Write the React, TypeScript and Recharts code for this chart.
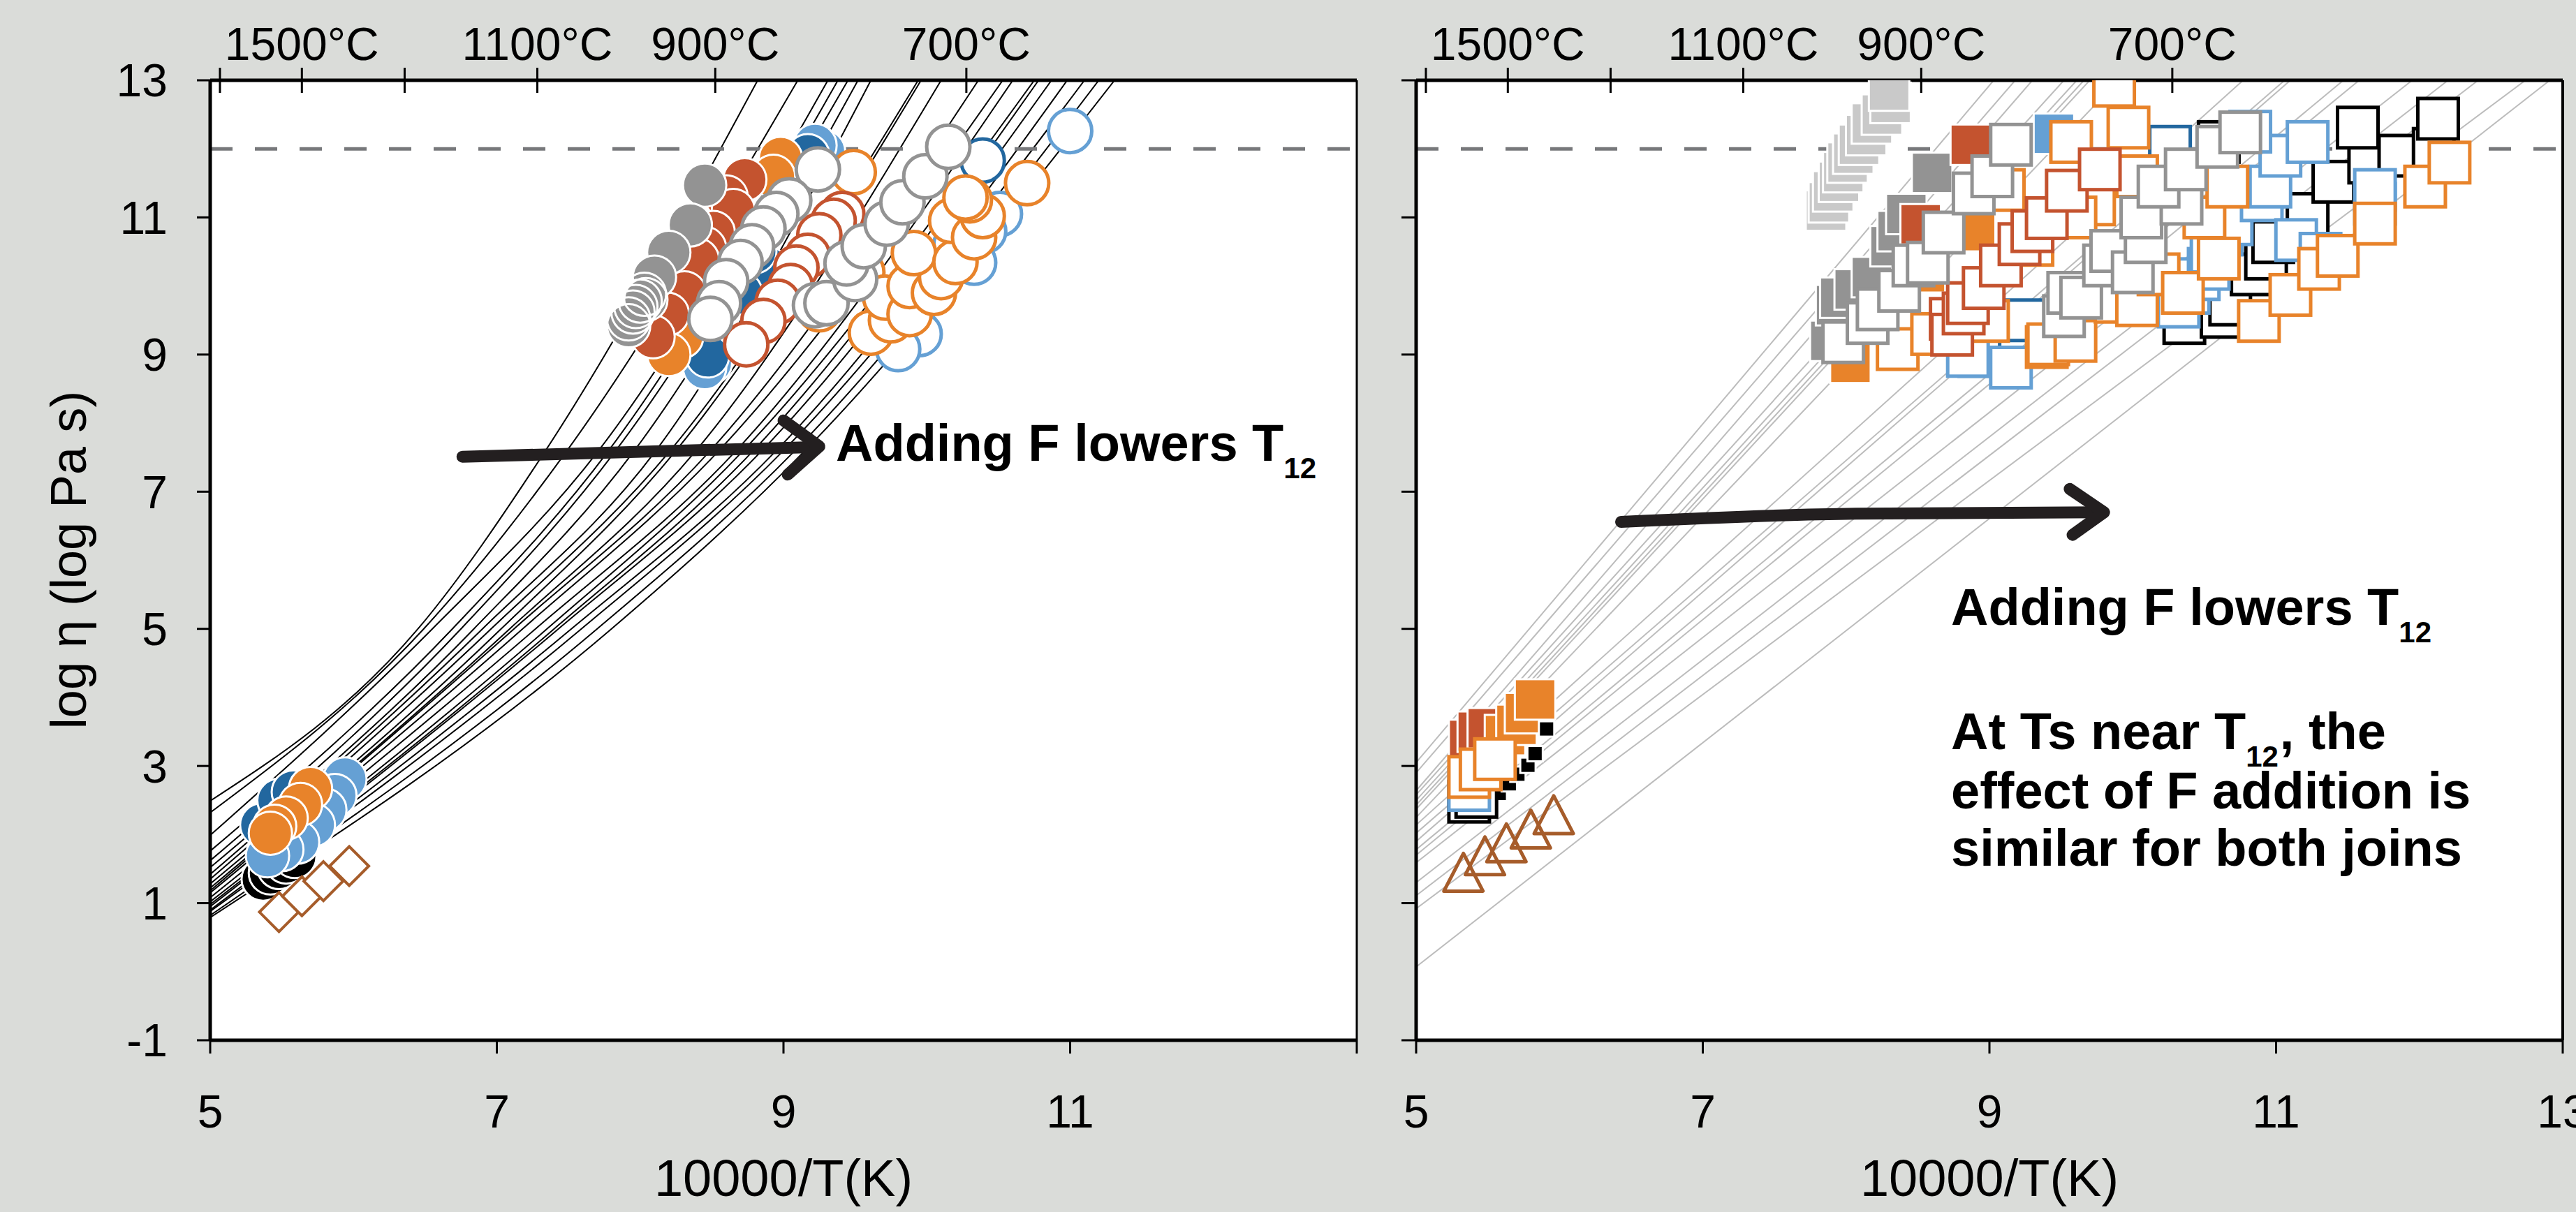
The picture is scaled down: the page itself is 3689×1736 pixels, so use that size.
import {
  CartesianGrid,
  ComposedChart,
  Line,
  ReferenceLine,
  Scatter,
  XAxis,
  YAxis,
} from "recharts";

const FONT = "'Liberation Sans', Arial, Helvetica, sans-serif";

// colours
const GRAY = "#939393";
const LIGHT_GRAY = "#c9c9c9";
const RED = "#c4532f";
const ORANGE = "#e8832a";
const DARK_BLUE = "#22679f";
const LIGHT_BLUE = "#65a0d4";
const BROWN = "#a65c2a";
const ARROW = "#231f20";
const FIT_GRAY = "#bcbcbc";

// axes
const X_TICKS = [5, 7, 9, 11, 13];
const Y_TICKS = [-1, 1, 3, 5, 7, 9, 11, 13];
const TOP_TEMPS_C = [1700, 1500, 1300, 1100, 900, 700];
const TOP_LABELED_C = [1500, 1100, 900, 700];
const T12_LINE = [[5, 12], [13, 12]];

// left panel: VFT fit curves (y at x=5, x where y=5, x where y=7.6, x where y=13)
const CURVE_Y_AT_5 = [2.49, 2.32, 1.99, 1.76, 1.62, 1.52, 1.42, 1.35, 1.28, 1.22, 1.18, 1.15, 1.08, 1.02, 0.98, 0.95, 0.9, 0.88, 0.82, 0.79];
const CURVE_X_Y5 = [6.45, 6.49, 6.55, 6.69, 6.75, 6.84, 6.9, 6.96, 7.03, 7.09, 7.12, 7.18, 7.27, 7.35, 7.4, 7.43, 7.52, 7.59, 7.7, 7.8];
const CURVE_X_Y76 = [7.34, 7.49, 7.71, 7.78, 7.83, 7.96, 8.11, 8.21, 8.25, 8.39, 8.49, 8.55, 8.67, 8.72, 8.79, 8.85, 8.95, 9.0, 9.08, 9.15];
const CURVE_X_TOP = [8.82, 9.1, 9.31, 9.38, 9.45, 9.52, 9.61, 9.94, 9.96, 10.1, 10.36, 10.53, 10.6, 10.75, 10.78, 10.87, 10.98, 11.1, 11.2, 11.31];

// left panel: circles
const LB_FILLED_C = [[9.28, 11.96], [9.22, 12.05], [8.49, 8.88], [8.45, 8.81], [5.94, 2.81], [5.87, 2.57], [5.8, 2.36], [5.72, 2.14], [5.61, 1.89], [5.5, 1.78], [5.4, 1.69]];
const DB_FILLED_C = [[9.17, 11.9], [8.88, 10.27], [8.8, 10.5], [8.7, 9.9], [8.47, 8.98], [5.36, 2.14], [5.48, 2.5], [5.58, 2.62]];
const OR_FILLED_C = [[8.98, 11.86], [8.93, 11.6], [8.35, 9.5], [8.29, 9.26], [8.2, 9.0], [5.7, 2.67], [5.63, 2.44], [5.53, 2.24], [5.45, 2.12], [5.42, 2.02]];
const RD_FILLED_C = [[8.73, 11.55], [8.6, 11.3], [8.65, 11.1], [8.51, 10.78], [8.45, 10.55], [8.4, 10.38], [8.31, 9.9], [8.19, 9.59], [8.09, 9.26]];
const GY_FILLED_C = [[8.45, 11.47], [8.35, 10.89], [8.2, 10.49], [8.1, 10.13], [8.04, 9.8], [7.92, 9.42]];
const WH_OPEN_C = [[7.92, 9.52], [7.95, 9.62], [7.97, 9.7], [8.0, 9.78], [8.03, 9.88]];
const BK_FILLED_C = [[5.37, 1.35], [5.42, 1.44], [5.48, 1.52], [5.53, 1.6], [5.59, 1.68]];
const BR_DIAMONDS = [[5.48, 0.87], [5.64, 1.1], [5.79, 1.32], [5.97, 1.54]];
const LB_OPEN_C = [[11.0, 12.26], [10.51, 11.05], [10.4, 10.8], [10.2, 10.6], [10.33, 10.34], [9.95, 9.3], [9.8, 9.08]];
const DB_OPEN_C = [[10.39, 11.83]];
const OR_OPEN_C = [[9.49, 11.66], [9.4, 10.6], [9.55, 10.2], [9.25, 9.66], [9.61, 9.32], [9.75, 9.5], [9.71, 9.83], [9.88, 9.59], [9.88, 10.0], [10.05, 9.9], [10.1, 10.13], [9.91, 10.48], [10.2, 10.35], [10.17, 10.95], [10.33, 10.71], [10.39, 11.02], [10.3, 11.25], [10.27, 11.29], [10.7, 11.5]];
const RD_OPEN_C = [[9.41, 11.05], [9.35, 10.95], [9.25, 10.74], [9.17, 10.44], [9.09, 10.27], [9.05, 10.0], [8.96, 9.77], [8.86, 9.49], [8.74, 9.15]];
const GY_OPEN_C = [[9.24, 11.7], [9.04, 11.25], [8.95, 11.05], [8.86, 10.84], [8.78, 10.58], [8.7, 10.35], [8.6, 10.07], [8.55, 9.75], [8.49, 9.52], [9.22, 9.72], [9.3, 9.75], [9.5, 10.1], [9.44, 10.33], [9.56, 10.58], [9.72, 10.91], [9.83, 11.22], [9.99, 11.6], [10.15, 12.03]];

// right panel: straight fits (y at x=5, x where y=13)
const R_LINE_Y_AT_5 = [3.05, 2.9, 2.64, 2.58, 2.5, 2.43, 2.37, 2.25, 2.14, 2.02, 1.9, 1.78, 1.7, 1.59, 1.3, 1.11, 0.92, 0.07];
const R_LINE_X_TOP = [9.03, 9.18, 9.3, 9.52, 9.61, 9.66, 9.7, 9.9, 10.77, 11.06, 11.1, 11.47, 11.58, 11.95, 12.2, 12.41, 12.74, 12.91];

// right panel: squares
const LG_FILLED_S = [[7.86, 11.1], [7.88, 11.22], [7.91, 11.38], [7.95, 11.52], [7.98, 11.66], [8.01, 11.8], [8.05, 11.93], [8.09, 12.06], [8.14, 12.2], [8.18, 12.37], [8.25, 12.5], [8.31, 12.67], [8.3, 12.85]];
const GY_FILLED_S = [[7.89, 9.2], [7.93, 9.72], [7.96, 9.83], [8.06, 9.95], [8.18, 10.13], [8.31, 10.58], [8.36, 10.8], [8.42, 11.05], [8.6, 11.65]];
const RD_FILLED_S = [[8.52, 10.9], [8.87, 12.06], [5.37, 3.38], [5.43, 3.5], [5.5, 3.55]];
const LB_FILLED_S = [[9.45, 12.22]];
const OR_FILLED_S = [[8.03, 8.88], [8.55, 10.2], [8.9, 10.8], [5.62, 3.45], [5.7, 3.6], [5.76, 3.77], [5.83, 3.97]];
const BK_SMALL_S = [[5.58, 2.6], [5.65, 2.74], [5.71, 2.88], [5.78, 3.01], [5.83, 3.18], [5.91, 3.54]];
const BK_OPEN_S = [[5.37, 2.48], [5.42, 2.55], [10.36, 9.46], [10.62, 9.55], [10.68, 9.73], [10.83, 10.17], [10.93, 10.4], [10.98, 10.64], [11.22, 11.05], [11.4, 11.52], [10.6, 12.1], [11.65, 11.8], [11.86, 11.9], [12.1, 12.0], [11.57, 12.31], [12.13, 12.44]];
const DB_OPEN_S = [[8.92, 9.01], [8.93, 8.98], [9.25, 9.5], [10.0, 11.9], [10.26, 12.03]];
const LB_OPEN_S = [[5.37, 2.65], [8.85, 8.98], [9.15, 8.81], [10.32, 9.7], [10.39, 9.9], [10.46, 10.1], [10.53, 10.25], [10.55, 10.5], [10.62, 10.75], [10.69, 10.9], [10.9, 11.25], [10.96, 11.45], [11.03, 11.9], [10.82, 12.25], [11.22, 12.1], [11.14, 10.67], [11.31, 10.47], [11.69, 11.2], [11.69, 11.4]];
const OR_OPEN_S = [[5.37, 2.84], [5.45, 2.95], [5.55, 3.1], [8.36, 9.08], [8.6, 9.3], [8.99, 9.49], [9.4, 9.11], [9.41, 9.15], [9.6, 9.2], [9.88, 9.77], [10.03, 9.72], [10.18, 10.17], [10.35, 9.9], [10.6, 10.4], [10.88, 9.49], [11.1, 9.87], [11.3, 10.25], [11.43, 10.44], [11.69, 10.91], [12.04, 11.45], [12.21, 11.8], [10.5, 11.0], [10.66, 11.45], [10.03, 11.6], [9.73, 11.19], [9.3, 10.6], [9.6, 11.0], [9.1, 11.4], [9.57, 12.1], [9.97, 12.31], [9.87, 12.92]];
const RD_OPEN_S = [[8.73, 9.52], [8.74, 9.29], [8.82, 9.6], [8.85, 9.75], [8.96, 9.97], [9.08, 10.3], [9.21, 10.61], [9.3, 10.8], [9.4, 10.99], [9.54, 11.39], [9.77, 11.7]];
const GY_OPEN_S = [[7.98, 9.18], [8.15, 9.46], [8.22, 9.66], [8.37, 9.93], [8.47, 10.3], [8.57, 10.34], [8.68, 10.78], [8.89, 11.35], [9.02, 11.6], [9.15, 12.06], [9.52, 9.56], [9.55, 9.9], [9.64, 9.83], [9.8, 10.3], [9.85, 10.51], [10.0, 10.2], [10.09, 10.64], [10.06, 11.0], [10.34, 11.2], [10.18, 11.45], [10.37, 11.7], [10.59, 12.03], [10.75, 12.24]];
const BR_TRIANGLES = [[5.33, 1.45], [5.48, 1.69], [5.63, 1.88], [5.8, 2.08], [5.96, 2.29]];

// arrows (data coordinates)
const L_ARROW = [[6.76, 7.51], [8.14, 7.59], [9.2, 7.65]];
const L_HEAD = [[9.0, 8.04], [9.25, 7.66], [9.03, 7.25]];
const R_ARROW = [[6.43, 6.56], [8.07, 6.68], [9.76, 6.7]];
const R_HEAD = [[9.56, 7.04], [9.8, 6.7], [9.58, 6.37]];

const pts = (a: number[][]) => a.map(([x, y]) => ({ x, y }));
const topTicks = TOP_TEMPS_C.map((c) => 10000 / (c + 273.15));

const leftCurves = CURVE_Y_AT_5.map((y0, i) =>
  pts([[5, y0], [CURVE_X_Y5[i], 5], [CURVE_X_Y76[i], 7.6], [CURVE_X_TOP[i], 13]])
);
const rightLines = R_LINE_Y_AT_5.map((y0, i) => pts([[5, y0], [R_LINE_X_TOP[i], 13]]));

const circle = (fill: string, stroke: string, sw: number) => (p: any) =>
  <circle cx={p.cx} cy={p.cy} r={31} fill={fill} stroke={stroke} strokeWidth={sw} />;
const square = (fill: string, stroke: string, sw: number, side = 58) => (p: any) =>
  <rect x={p.cx - side / 2} y={p.cy - side / 2} width={side} height={side} fill={fill} stroke={stroke} strokeWidth={sw} />;
const diamond = (p: any) => (
  <polygon
    points={`${p.cx},${p.cy - 28} ${p.cx + 28},${p.cy} ${p.cx},${p.cy + 28} ${p.cx - 28},${p.cy}`}
    fill="#fff" stroke={BROWN} strokeWidth={4}
  />
);
const triangle = (p: any) => (
  <polygon
    points={`${p.cx},${p.cy - 27} ${p.cx + 28},${p.cy + 27} ${p.cx - 28},${p.cy + 27}`}
    fill="none" stroke={BROWN} strokeWidth={5} strokeLinejoin="round"
  />
);

function TopTick(props: any) {
  const { x, y, payload } = props;
  const c = Math.round(10000 / payload.value - 273.15);
  return (
    <g>
      <line x1={x} x2={x} y1={y - 18} y2={y + 18} stroke="#000" strokeWidth={3} />
      {TOP_LABELED_C.includes(c) && (
        <text x={x} y={y - 29} textAnchor="middle" fontSize={66} fontFamily={FONT} fill="#000">
          {c}°C
        </text>
      )}
    </g>
  );
}

const bottomTick = (hide: number[]) => (props: any) => {
  const { x, y, payload } = props;
  if (hide.includes(payload.value)) return <g />;
  return (
    <text x={x} y={y} dy={106} textAnchor="middle" fontSize={66} fontFamily={FONT} fill="#000">
      {payload.value}
    </text>
  );
};

const noTick = () => <g />;

const AXIS = { stroke: "#000", strokeWidth: 5 };
const TICK = { stroke: "#000", strokeWidth: 3 };
const H = 1736;
const PLOT_TOP = 115;
const PLOT_BOTTOM_GAP = 246;

function scatter(data: number[][], shape: any, key: string) {
  return <Scatter key={key} data={pts(data)} dataKey="y" shape={shape} isAnimationActive={false} />;
}

function arrow(data: number[][], type: "monotone" | "linear", key: string) {
  return (
    <Line
      key={key}
      data={pts(data)}
      dataKey="y"
      type={type}
      stroke={ARROW}
      strokeWidth={17}
      strokeLinecap="round"
      strokeLinejoin="round"
      dot={false}
      activeDot={false}
      isAnimationActive={false}
    />
  );
}

// y = 12 reference drawn as a series on the top (temperature) axis
function t12Line() {
  return (
    <Line
      xAxisId="top"
      data={pts(T12_LINE)}
      dataKey="y"
      type="linear"
      stroke="#77787b"
      strokeWidth={5}
      strokeDasharray="32 32"
      dot={false}
      activeDot={false}
      isAnimationActive={false}
    />
  );
}

function topAxis() {
  return (
    <XAxis xAxisId="top" dataKey="x" orientation="top" type="number" domain={[5, 13]} ticks={topTicks} interval={0}
      allowDataOverflow height={PLOT_TOP} axisLine={AXIS} tickLine={false} tickSize={0} tickMargin={0} tick={TopTick} />
  );
}

function LeftPanel() {
  return (
    <ComposedChart width={1990} height={H} margin={{ top: 0, right: 47, bottom: 0, left: 0 }}>
      <CartesianGrid fill="#ffffff" stroke="none" horizontal={false} vertical={false} />
      <XAxis dataKey="x" type="number" domain={[5, 13]} ticks={X_TICKS} interval={0} allowDataOverflow
        height={PLOT_BOTTOM_GAP} axisLine={AXIS} tickLine={TICK} tickSize={19} tickMargin={0} tick={bottomTick([13])} />
      {topAxis()}
      <YAxis dataKey="y" type="number" domain={[-1, 13]} ticks={Y_TICKS} interval={0} allowDataOverflow width={301}
        axisLine={AXIS} tickLine={TICK} tickSize={19} tickMargin={42}
        tick={{ fill: "#000", fontSize: 66, fontFamily: FONT }} />
      <ReferenceLine x={13} stroke="#000" strokeWidth={3} />
      {leftCurves.map((c, i) => (
        <Line key={`c${i}`} data={c} dataKey="y" type="monotone" stroke="#000" strokeWidth={2}
          dot={false} activeDot={false} isAnimationActive={false} />
      ))}
      {scatter(BK_FILLED_C, circle("#000", "#fff", 3), "bk")}
      {scatter(LB_FILLED_C, circle(LIGHT_BLUE, "#fff", 3), "lbf")}
      {scatter(DB_FILLED_C, circle(DARK_BLUE, "#fff", 3), "dbf")}
      {scatter(OR_FILLED_C, circle(ORANGE, "#fff", 3), "orf")}
      {scatter(RD_FILLED_C, circle(RED, "#fff", 3), "rdf")}
      {scatter(GY_FILLED_C, circle(GRAY, "#fff", 3), "gyf")}
      {scatter(WH_OPEN_C, circle("none", "#fff", 3), "wh")}
      {scatter(BR_DIAMONDS, diamond, "br")}
      {scatter(LB_OPEN_C, circle("#fff", LIGHT_BLUE, 5), "lbo")}
      {scatter(DB_OPEN_C, circle("#fff", DARK_BLUE, 5), "dbo")}
      {scatter(OR_OPEN_C, circle("#fff", ORANGE, 5), "oro")}
      {scatter(RD_OPEN_C, circle("#fff", RED, 5), "rdo")}
      {scatter(GY_OPEN_C, circle("#fff", GRAY, 5), "gyo")}
      {t12Line()}
      {arrow(L_ARROW, "monotone", "la")}
      {arrow(L_HEAD, "linear", "lh")}
    </ComposedChart>
  );
}

function RightPanel() {
  return (
    <ComposedChart width={1699} height={H} margin={{ top: 0, right: 19, bottom: 0, left: 0 }}>
      <CartesianGrid fill="#ffffff" stroke="none" horizontal={false} vertical={false} />
      <XAxis dataKey="x" type="number" domain={[5, 13]} ticks={X_TICKS} interval={0} allowDataOverflow
        height={PLOT_BOTTOM_GAP} axisLine={AXIS} tickLine={TICK} tickSize={19} tickMargin={0} tick={bottomTick([])} />
      {topAxis()}
      <YAxis dataKey="y" type="number" domain={[-1, 13]} ticks={Y_TICKS} interval={0} allowDataOverflow width={38}
        axisLine={AXIS} tickLine={TICK} tickSize={21} tick={noTick} />
      <ReferenceLine x={13} stroke="#000" strokeWidth={4} />
      {rightLines.map((c, i) => (
        <Line key={`r${i}`} data={c} dataKey="y" type="linear" stroke={FIT_GRAY} strokeWidth={2}
          dot={false} activeDot={false} isAnimationActive={false} />
      ))}
      {scatter(LG_FILLED_S, square(LIGHT_GRAY, "#fff", 3), "lgf")}
      {scatter(GY_FILLED_S, square(GRAY, "#fff", 3), "gyf")}
      {scatter(RD_FILLED_S, square(RED, "#fff", 3), "rdf")}
      {scatter(LB_FILLED_S, square(LIGHT_BLUE, "#fff", 3), "lbf")}
      {scatter(OR_FILLED_S, square(ORANGE, "#fff", 3), "orf")}
      {scatter(BK_SMALL_S, square("#000", "#fff", 3, 22), "bks")}
      {scatter(BK_OPEN_S, square("#fff", "#000", 5), "bko")}
      {scatter(DB_OPEN_S, square("#fff", DARK_BLUE, 5), "dbo")}
      {scatter(LB_OPEN_S, square("#fff", LIGHT_BLUE, 5), "lbo")}
      {scatter(OR_OPEN_S, square("#fff", ORANGE, 5), "oro")}
      {scatter(RD_OPEN_S, square("#fff", RED, 5), "rdo")}
      {scatter(GY_OPEN_S, square("#fff", GRAY, 5), "gyo")}
      {scatter(BR_TRIANGLES, triangle, "tri")}
      {t12Line()}
      {arrow(R_ARROW, "monotone", "ra")}
      {arrow(R_HEAD, "linear", "rh")}
    </ComposedChart>
  );
}

export default function App() {
  const bold = { fontSize: 74, fontWeight: 700, fontFamily: FONT, fill: "#000" } as const;
  return (
    <div style={{ position: "absolute", left: 0, top: 0, width: 3689, height: H, background: "#dadcd9", overflow: "hidden", fontFamily: FONT }}>
      <div style={{ position: "absolute", left: 0, top: 0 }}>
        <LeftPanel />
      </div>
      <div style={{ position: "absolute", left: 1990, top: 0 }}>
        <RightPanel />
      </div>
      <svg width={3689} height={H} style={{ position: "absolute", left: 0, top: 0, pointerEvents: "none" }}>
        <text x={123} y={802} transform="rotate(-90 123 802)" textAnchor="middle" fontSize={72} fontFamily={FONT} fill="#000">
          log η (log Pa s)
        </text>
        <text x={1122} y={1713} textAnchor="middle" fontSize={74} fontFamily={FONT} fill="#000">10000/T(K)</text>
        <text x={2849} y={1713} textAnchor="middle" fontSize={74} fontFamily={FONT} fill="#000">10000/T(K)</text>
        <text x={1197} y={660} {...bold}>
          Adding F lowers T<tspan fontSize={42} dy={25}>12</tspan>
        </text>
        <text x={2794} y={895} {...bold}>
          Adding F lowers T<tspan fontSize={42} dy={25}>12</tspan>
        </text>
        <text x={2794} y={1073} {...bold}>
          At Ts near T<tspan fontSize={42} dy={25}>12</tspan><tspan dy={-25} dx={2}>, the</tspan>
        </text>
        <text x={2794} y={1158} {...bold}>effect of F addition is</text>
        <text x={2794} y={1240} {...bold}>similar for both joins</text>
      </svg>
    </div>
  );
}
